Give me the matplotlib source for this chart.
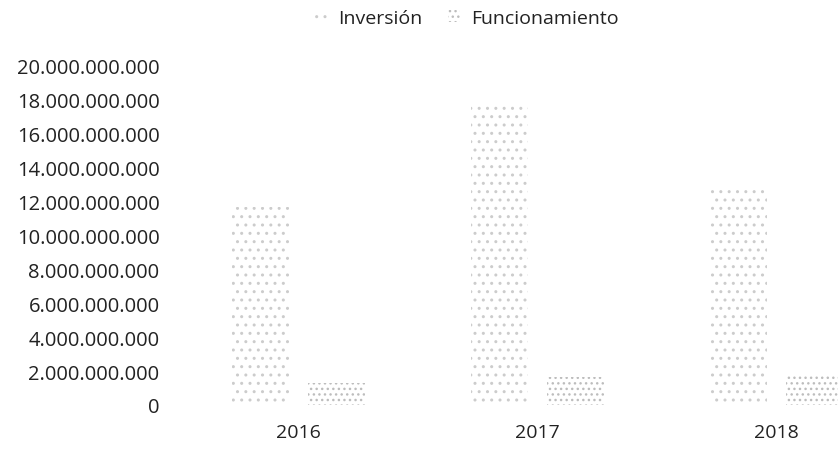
import numpy as np
import matplotlib
matplotlib.use("Agg")
import matplotlib.pyplot as plt
from matplotlib.ticker import FuncFormatter

plt.rcParams["font.family"] = ["Open Sans", "DejaVu Sans"]
plt.rcParams["hatch.linewidth"] = 1.0

# data
years = ["2016", "2017", "2018"]
inversion = [11.7e9, 17.9e9, 12.9e9]
funcionamiento = [1.3e9, 1.65e9, 1.8e9]
series_names = ["Inversión", "Funcionamiento"]
y_ticks = np.arange(0, 20e9 + 1, 2e9)

fig = plt.figure(figsize=(8.38, 4.52), dpi=100)
ax = fig.add_axes([0.2136, 0.1018, 0.7864, 0.75])

x = np.arange(len(years))
w = 0.24
b1 = ax.bar(x - 0.16, inversion, w, color="white", edgecolor="#cccccc",
            linewidth=0, hatch="..", label=series_names[0])
b2 = ax.bar(x + 0.16, funcionamiento, w, color="white", edgecolor="#bdbdbd",
            linewidth=0, hatch="...", label=series_names[1])

ax.set_xlim(-0.5, 2.257)
ax.set_ylim(0, 20e9)
ax.set_yticks(y_ticks)
ax.yaxis.set_major_formatter(FuncFormatter(lambda v, p: f"{int(round(v)):,}".replace(",", ".")))
ax.set_xticks(x)
ax.set_xticklabels(years)

for s in ax.spines.values():
    s.set_visible(False)
ax.tick_params(axis="y", length=0, pad=14, labelsize=14.5, labelcolor="#222222")
ax.tick_params(axis="x", length=0, pad=13, labelsize=14, labelcolor="#222222")

leg = ax.legend(handles=[b1, b2], loc="center", bbox_to_anchor=(467 / 838, 1 - 19 / 452),
                bbox_transform=fig.transFigure, ncol=2, frameon=False,
                fontsize=14, handlelength=0.6, handleheight=0.6,
                handletextpad=0.6, columnspacing=1.3)
for t in leg.get_texts():
    t.set_color("#222222")

fig.savefig("out.png", dpi=100)
